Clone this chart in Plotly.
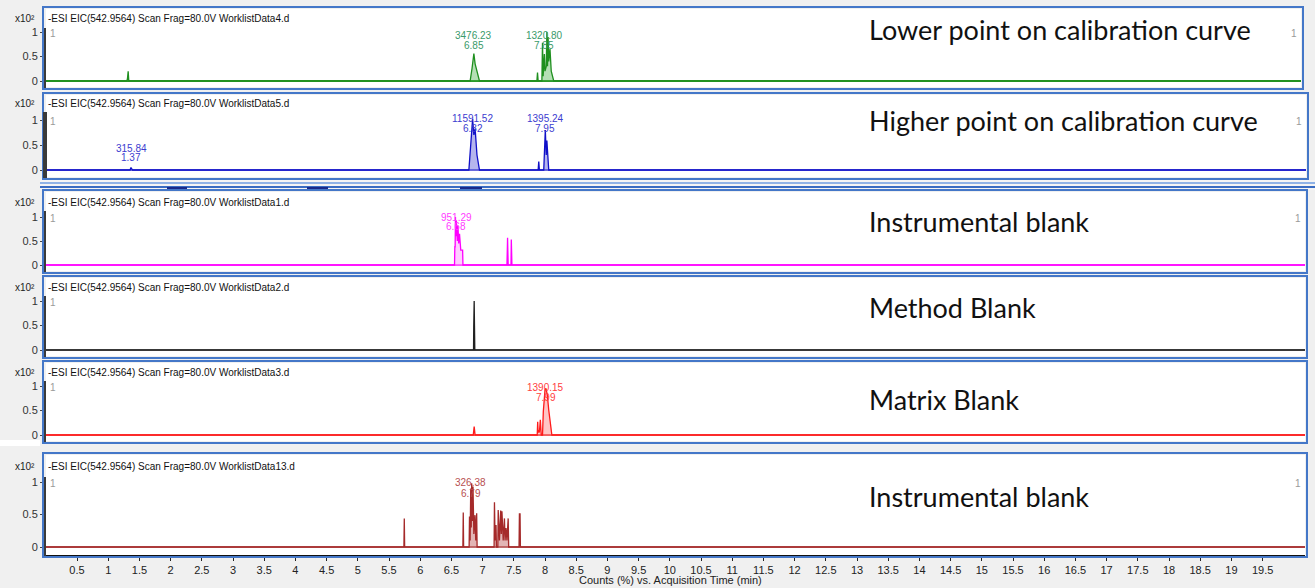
import plotly.graph_objects as go

W, H = 1315, 588

# ---------------- data ----------------
headers = [
    "-ESI EIC(542.9564) Scan Frag=80.0V WorklistData4.d",
    "-ESI EIC(542.9564) Scan Frag=80.0V WorklistData5.d",
    "-ESI EIC(542.9564) Scan Frag=80.0V WorklistData1.d",
    "-ESI EIC(542.9564) Scan Frag=80.0V WorklistData2.d",
    "-ESI EIC(542.9564) Scan Frag=80.0V WorklistData3.d",
    "-ESI EIC(542.9564) Scan Frag=80.0V WorklistData13.d",
]
sample_names = [
    "Lower point on calibration curve",
    "Higher point on calibration curve",
    "Instrumental blank",
    "Method Blank",
    "Matrix Blank",
    "Instrumental blank",
]

# Worklist Data4 (green)
p1_time = [0.00, 1.30, 1.31, 1.32, 1.33, 6.80, 6.83, 6.86, 6.88, 6.91, 6.95,
           7.87, 7.88, 7.89, 7.95, 7.96, 7.97, 7.99, 8.00, 8.02, 8.03, 8.04,
           8.05, 8.06, 8.08, 8.10, 8.12, 8.14, 20.30]
p1_counts = [0.00, 0.00, 0.06, 0.20, 0.00, 0.00, 0.25, 0.56, 0.35, 0.22, 0.00,
             0.00, 0.17, 0.00, 0.00, 0.78, 0.10, 0.55, 0.20, 0.30, 1.00, 0.30,
             0.90, 0.40, 0.65, 0.20, 0.10, 0.00, 0.00]
# Worklist Data5 (blue)
p2_time = [0.00, 1.35, 1.365, 1.375, 1.39, 6.78, 6.81, 6.84, 6.86, 6.88, 6.91,
           6.95, 7.89, 7.90, 7.91, 7.98, 8.005, 8.02, 8.03, 8.045, 8.06, 20.30]
p2_counts = [0.00, 0.00, 0.05, 0.03, 0.00, 0.00, 0.45, 1.02, 0.70, 0.83, 0.30,
             0.00, 0.00, 0.17, 0.00, 0.00, 0.80, 0.30, 0.59, 0.20, 0.00, 0.00]
# Worklist Data1 (magenta)
p3_time = [0.00, 6.55, 6.555, 6.56, 6.565, 6.57, 6.58, 6.595, 6.605, 6.617,
           6.63, 6.643, 6.65, 6.66, 6.665, 6.68, 6.685, 7.39, 7.395, 7.40, 7.41,
           7.455, 7.46, 7.465, 7.47, 20.30]
p3_counts = [0.00, 0.00, 0.38, 0.38, 1.00, 0.60, 0.92, 0.50, 0.82, 0.45, 0.65,
             0.35, 0.31, 0.31, 0.31, 0.31, 0.00, 0.00, 0.27, 0.57, 0.00, 0.00,
             0.53, 0.27, 0.00, 0.00]
# Worklist Data2 (black)
p4_time = [0.00, 6.855, 6.858, 6.865, 6.870, 6.875, 20.30]
p4_counts = [0.00, 0.00, 0.49, 1.00, 0.49, 0.00, 0.00]
# Worklist Data3 (red)
p5_time = [0.00, 6.85, 6.865, 6.88, 7.875, 7.883, 7.89, 7.90, 7.91, 7.925,
           7.94, 7.96, 7.973, 8.00, 8.015, 8.037, 8.06, 8.09, 8.11, 20.30]
p5_counts = [0.00, 0.00, 0.17, 0.00, 0.00, 0.27, 0.05, 0.10, 0.05, 0.31,
             0.00, 0.00, 0.48, 0.92, 0.95, 0.82, 0.51, 0.14, 0.00, 0.00]
# Worklist Data13 (brown-red)
p6_time = [0.00, 5.739, 5.745, 5.751, 6.684, 6.69, 6.696, 6.784, 6.79, 6.80,
           6.81, 6.818, 6.825, 6.835, 6.846, 6.86, 6.878, 6.89, 6.905, 6.912,
           7.184, 7.19, 7.20, 7.215, 7.222, 7.244, 7.25, 7.27, 7.29, 7.30, 7.31,
           7.33, 7.35, 7.36, 7.375, 7.39, 7.41, 7.418, 7.584, 7.59, 7.60, 7.606,
           20.30]
p6_counts = [0.00, 0.00, 0.44, 0.00, 0.00, 0.53, 0.00, 0.00, 0.47, 0.10,
             0.90, 0.30, 0.98, 0.40, 0.93, 0.20, 0.49, 0.10, 0.52, 0.00,
             0.00, 0.69, 0.10, 0.34, 0.00, 0.00, 0.57, 0.10, 0.56, 0.20, 0.55,
             0.10, 0.44, 0.10, 0.29, 0.10, 0.44, 0.00, 0.00, 0.51, 0.51, 0.00,
             0.00]

# integrated-peak labels: (area, retention time, label time)
p1_labels = [("3476.23", "6.85", 6.86), ("1320.80", "7.85", 7.99)]
p2_labels = [("315.84", "1.37", 1.37), ("11591.52", "6.82", 6.84), ("1395.24", "7.95", 8.00)]
p3_labels = [("951.29", "6.68", 6.58)]
p4_labels = []
p5_labels = [("1390.15", "7.99", 8.01)]
p6_labels = [("326.38", "6.79", 6.81)]

x_tick_values = [0.5, 1, 1.5, 2, 2.5, 3, 3.5, 4, 4.5, 5, 5.5, 6, 6.5, 7, 7.5,
                 8, 8.5, 9, 9.5, 10, 10.5, 11, 11.5, 12, 12.5, 13, 13.5, 14,
                 14.5, 15, 15.5, 16, 16.5, 17, 17.5, 18, 18.5, 19, 19.5]
x_tick_text = ["0.5", "1", "1.5", "2", "2.5", "3", "3.5", "4", "4.5", "5", "5.5",
               "6", "6.5", "7", "7.5", "8", "8.5", "9", "9.5", "10", "10.5", "11",
               "11.5", "12", "12.5", "13", "13.5", "14", "14.5", "15", "15.5",
               "16", "16.5", "17", "17.5", "18", "18.5", "19", "19.5"]
y_tick_values = [0, 0.5, 1]
y_tick_text = ["0", "0.5", "1"]
y_scale_label = "x10²"
x_title = "Counts (%) vs. Acquisition Time (min)"

series = [(p1_time, p1_counts, p1_labels), (p2_time, p2_counts, p2_labels),
          (p3_time, p3_counts, p3_labels), (p4_time, p4_counts, p4_labels),
          (p5_time, p5_counts, p5_labels), (p6_time, p6_counts, p6_labels)]

# ---------------- geometry / style (pixels) ----------------
T0, PXU = 45.8, 62.4          # pixel of t=0 and pixels per minute
LEFT = 43
geo = [
    dict(top=7,   bot=89,  right=1303, zero=81,  one=32,  hy=18,  ytop=28,  lab=(36, 46), axw=2),
    dict(top=93,  bot=179, right=1308, zero=170, one=120, hy=103, ytop=112, lab=(118, 128), axw=4),
    dict(top=190, bot=273, right=1307, zero=265, one=217, hy=202, ytop=211, lab=(217, 227), axw=2),
    dict(top=276, bot=358, right=1307, zero=350, one=301, hy=287, ytop=296, lab=(0, 0), axw=2),
    dict(top=361, bot=443, right=1307, zero=435, one=386, hy=372, ytop=381, lab=(387, 397), axw=2),
    dict(top=453, bot=557, right=1307, zero=547, one=482, hy=466, ytop=477, lab=(482, 493), axw=2),
]
p2_label_px = [(148, 158), (118, 128), (118, 128)]
styles = [
    dict(line="#1f8f1f", base="#2a9a2a", fill="rgba(70,175,70,0.40)", lab="#3a9a6a"),
    dict(line="#1010c8", base="#6a6adc", fill="rgba(90,90,215,0.45)", lab="#3c3cd0"),
    dict(line="#ff00ff", base="#ff55ff", fill="rgba(255,130,255,0.40)", lab="#ff40ff"),
    dict(line="#202020", base="#808080", fill=None, lab="#202020"),
    dict(line="#ff1a1a", base="#f06060", fill="rgba(255,110,110,0.40)", lab="#ff4040"),
    dict(line="#a52a2a", base="#c07070", fill="rgba(190,90,90,0.45)", lab="#b85050"),
]
name_y = [30, 120, 221, 307, 399, 496]

def px(x):
    return x / W

def py(y):
    return 1 - y / H

SMALL = "Liberation Sans, Arial, sans-serif"
NARROW = "Liberation Sans Narrow, Arial Narrow, Liberation Sans, sans-serif"

fig = go.Figure()
layout = dict(width=W, height=H, margin=dict(l=0, r=0, t=0, b=0),
              paper_bgcolor="#f0f0f0", plot_bgcolor="white", showlegend=False)
shapes, annotations = [], []

# scrollbar-like band between the two groups of panels
shapes += [
    dict(type="rect", xref="paper", yref="paper", x0=px(40), x1=1, y0=py(190), y1=py(180),
         fillcolor="#f4f4f4", line=dict(width=0), layer="below"),
    dict(type="line", xref="paper", yref="paper", x0=px(40), x1=1, y0=py(183), y1=py(183),
         line=dict(color="#8fb2e6", width=2)),
    dict(type="line", xref="paper", yref="paper", x0=px(40), x1=1, y0=py(187), y1=py(187),
         line=dict(color="#3a6cc2", width=2)),
]
for a, b in [(167, 187), (307, 328), (460, 482)]:
    shapes.append(dict(type="line", xref="paper", yref="paper", x0=px(a), x1=px(b),
                       y0=py(188), y1=py(188), line=dict(color="#1a2a8a", width=2)))
shapes.append(dict(type="rect", xref="paper", yref="paper", x0=0, x1=px(40), y0=py(446), y1=py(440),
                   fillcolor="white", line=dict(width=0), layer="below"))

for i, ((t, c, labels), g, st) in enumerate(zip(series, geo, styles)):
    k = i + 1
    xa = "x" if k == 1 else f"x{k}"
    ya = "y" if k == 1 else f"y{k}"
    s = g["zero"] - g["one"]
    x_left = 46
    x_right = g["right"] - 2
    layout["xaxis" if k == 1 else f"xaxis{k}"] = dict(
        domain=[px(x_left), px(x_right)],
        range=[(x_left - T0) / PXU, (x_right - T0) / PXU],
        anchor=ya, showgrid=False, zeroline=False,
        showticklabels=(k == 6), ticks="outside" if k == 6 else "",
        tickvals=x_tick_values, ticktext=x_tick_text, ticklen=5, tickcolor="#222",
        tickfont=dict(family=NARROW, size=11, color="#222"),
        showline=(k == 6), linecolor="#111", linewidth=1,
    )
    layout["yaxis" if k == 1 else f"yaxis{k}"] = dict(
        domain=[py(g["bot"] - 2), py(g["top"] + 2)],
        range=[(g["zero"] - (g["bot"] - 2)) / s, (g["zero"] - (g["top"] + 2)) / s],
        anchor=xa, showgrid=False, zeroline=False, showline=False,
        tickvals=y_tick_values, ticktext=y_tick_text, ticks="outside", ticklen=5,
        tickcolor="#444", tickfont=dict(family=SMALL, size=11, color="#333"),
    )
    # baseline + peaks
    fig.add_trace(go.Scatter(x=[t[0], t[-1]], y=[0, 0], xaxis=xa, yaxis=ya, mode="lines",
                             line=dict(color=st["base"], width=2), hoverinfo="skip"))
    fig.add_trace(go.Scatter(x=t, y=c, xaxis=xa, yaxis=ya, mode="lines",
                             line=dict(color=st["line"], width=1.3),
                             fill="tozeroy" if st["fill"] else None,
                             fillcolor=st["fill"], hoverinfo="x+y"))
    # border
    shapes.append(dict(type="rect", xref="paper", yref="paper", x0=px(LEFT), x1=px(g["right"]),
                       y0=py(g["bot"]), y1=py(g["top"]), line=dict(color="#4477c8", width=2)))
    # dark y-axis line
    shapes.append(dict(type="line", xref="paper", yref="paper", x0=px(45), x1=px(45),
                       y0=py(g["bot"] - 1), y1=py(g["ytop"]),
                       line=dict(color="#3a3a3a", width=g["axw"])))
    # header
    annotations.append(dict(text=headers[i], xref="paper", yref="paper", x=px(46), y=py(g["hy"]),
                            xanchor="left", yanchor="middle", showarrow=False,
                            font=dict(family=SMALL, size=10, color="#111")))
    annotations.append(dict(text=y_scale_label, xref="paper", yref="paper", x=px(37),
                            y=py(g["hy"]), xanchor="right", yanchor="middle", showarrow=False,
                            font=dict(family=SMALL, size=10, color="#222")))
    annotations.append(dict(text="1", xref="paper", yref="paper", x=px(48), y=py(g["one"] + 1),
                            xanchor="left", yanchor="middle", showarrow=False,
                            font=dict(family=SMALL, size=10, color="#9a9a9a")))
    if k in (1, 2, 3, 6):
        annotations.append(dict(text="1", xref="paper", yref="paper",
                                x=px(g["right"] - 14), y=py(g["one"] + 1),
                                xanchor="left", yanchor="middle", showarrow=False,
                                font=dict(family=SMALL, size=10, color="#9a9a9a")))
    # sample name
    annotations.append(dict(text=sample_names[i], xref="paper", yref="paper", x=px(867),
                            y=py(name_y[i]), xanchor="left", yanchor="middle", showarrow=False,
                            font=dict(family="Lato, sans-serif", size=27, color="#111")))
    # peak labels
    for j, (area, rt, lt) in enumerate(labels):
        ya_px, yb_px = p2_label_px[j] if k == 2 else g["lab"]
        for txt, yy in ((area, ya_px), (rt, yb_px)):
            annotations.append(dict(text=txt, xref=xa, yref="paper", x=lt, y=py(yy),
                                    xanchor="center", yanchor="middle", showarrow=False,
                                    font=dict(family=SMALL, size=10, color=st["lab"])))

annotations.append(dict(text=x_title, xref="paper", yref="paper", x=px(670), y=py(580),
                        xanchor="center", yanchor="middle", showarrow=False,
                        font=dict(family=NARROW, size=11, color="#222")))

layout["shapes"] = shapes
layout["annotations"] = annotations
fig.update_layout(**layout)
fig.write_html("out.html", config={"displayModeBar": False},
               post_script="document.body.style.margin='0';document.body.style.padding='0';"
                           "document.body.style.overflow='hidden';")
